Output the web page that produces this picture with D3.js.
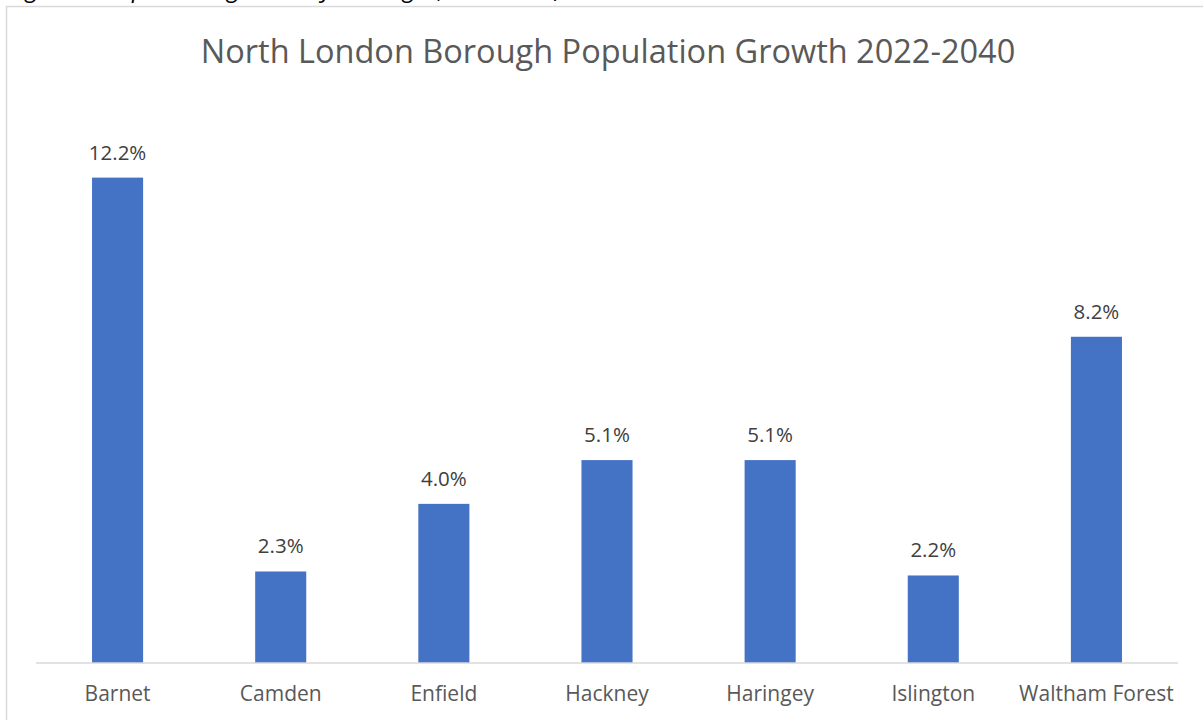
<!DOCTYPE html>
<html>
<head>
<meta charset="utf-8">
<script src="https://cdn.jsdelivr.net/npm/d3@7"></script>
<style>
html,body{margin:0;padding:0;background:#fff;overflow:hidden;}
svg{display:block;}
</style>
</head>
<body>
<svg id="chart" width="1203" height="720"></svg>
<script>
const categories = ["Barnet","Camden","Enfield","Hackney","Haringey","Islington","Waltham Forest"];
const growth = [12.2, 2.3, 4.0, 5.1, 5.1, 2.2, 8.2];
const titleText = "North London Borough Population Growth 2022-2040";
const captionText = "Figure 5: Population growth by borough (2022-2040)";

const svg = d3.select("#chart");
const FONT = "'Open Sans', 'Noto Sans', sans-serif";

// caption fragment above the chart (cut off at top, as in the reference)
svg.append("text")
  .attr("x", 8).attr("y", -3)
  .attr("font-family", FONT).attr("font-style", "italic")
  .attr("font-size", 24).attr("fill", "#000")
  .text(captionText);

// chart border
svg.append("rect")
  .attr("x", 6.5).attr("y", 6.5)
  .attr("width", 1205).attr("height", 730)
  .attr("fill", "#fff").attr("stroke", "#d9d9d9").attr("stroke-width", 1.5);

// title
svg.append("text")
  .attr("x", 608).attr("y", 63)
  .attr("text-anchor", "middle")
  .attr("font-family", FONT).attr("font-size", 32.5)
  .attr("fill", "#595959")
  .text(titleText);

const x = d3.scaleBand()
  .domain(categories)
  .range([36, 1178])
  .paddingInner(0.687)
  .paddingOuter(0.3435);

const y = d3.scaleLinear().domain([0, 14]).range([663, 106]);

svg.append("g").selectAll("rect")
  .data(categories)
  .join("rect")
  .attr("x", d => x(d))
  .attr("width", x.bandwidth())
  .attr("y", (d, i) => y(growth[i]))
  .attr("height", (d, i) => y(0) - y(growth[i]))
  .attr("fill", "#4472C4");

// data labels
svg.append("g").selectAll("text")
  .data(categories)
  .join("text")
  .attr("x", d => x(d) + x.bandwidth() / 2)
  .attr("y", (d, i) => y(growth[i]) - 18)
  .attr("text-anchor", "middle")
  .attr("font-family", FONT).attr("font-size", 20.5)
  .attr("fill", "#404040")
  .text((d, i) => growth[i].toFixed(1) + "%");

// x axis
const xAxis = d3.axisBottom(x).tickSize(0).tickPadding(17);
const gx = svg.append("g").attr("transform", "translate(0,663)").call(xAxis);
gx.select(".domain").attr("stroke", "#d9d9d9").attr("stroke-width", 1.5)
  .attr("d", "M36,0H1178");
gx.selectAll("text")
  .attr("font-family", FONT).attr("font-size", 21)
  .attr("fill", "#595959")
  .attr("dy", "1.0em");
</script>
</body>
</html>
